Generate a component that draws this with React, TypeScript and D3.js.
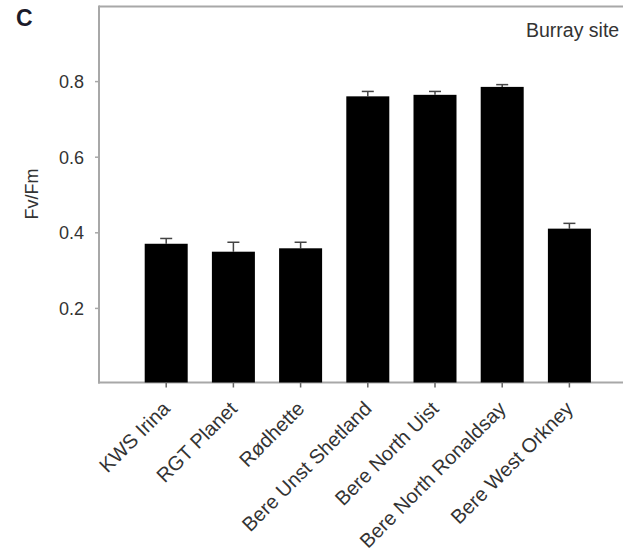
import React from "react";
import * as d3 from "d3";

const categories = [
  "KWS Irina",
  "RGT Planet",
  "Rødhette",
  "Bere Unst Shetland",
  "Bere North Uist",
  "Bere North Ronaldsay",
  "Bere West Orkney",
];
const means = [0.371, 0.35, 0.359, 0.761, 0.765, 0.786, 0.411];
const errors = [0.014, 0.025, 0.016, 0.013, 0.009, 0.006, 0.014];
const yTicks = [0.2, 0.4, 0.6, 0.8];

const W = 623;
const H = 553;
const left = 99;
const top = 6;
const bottom = 384;
const axisY = 382.5;

export default function App() {
  const x = d3
    .scalePoint<string>()
    .domain(categories)
    .range([left, left + 8 * 67.2])
    .padding(1);
  const y = d3.scaleLinear().domain([0, 1]).range([bottom, top]);
  const barW = 43;
  const frame = "#a8a8a8";
  const txt = "#333";
  const font = "'Liberation Sans', Arial, sans-serif";

  return (
    <svg
      width={W}
      height={H}
      style={{ position: "absolute", left: 0, top: 0, background: "#fff" }}
      fontFamily={font}
    >
      <text x={16} y={26} fontSize={23} fontWeight="bold" fill="#1b1b2a">
        C
      </text>
      {/* frame */}
      <line x1={left} x2={W + 5} y1={top + 0.5} y2={top + 0.5} stroke={frame} strokeWidth={2} />
      <line x1={left} x2={left} y1={top - 0.5} y2={axisY + 1} stroke={frame} strokeWidth={2} />
      <line x1={left - 1} x2={W + 5} y1={axisY} y2={axisY} stroke={frame} strokeWidth={2} />
      {/* y ticks */}
      {yTicks.map((t) => (
        <g key={t}>
          <line x1={left - 4} x2={left} y1={y(t)} y2={y(t)} stroke={frame} strokeWidth={1.5} />
          <text
            x={84}
            y={y(t)}
            dy="0.35em"
            textAnchor="end"
            fontSize={18}
            fill={txt}
          >
            {t.toFixed(1)}
          </text>
        </g>
      ))}
      <text
        transform={`translate(38,194) rotate(-90)`}
        textAnchor="middle"
        fontSize={18}
        fill={txt}
      >
        Fv/Fm
      </text>
      {/* bars */}
      {categories.map((c, i) => {
        const cx = x(c) as number;
        const v = means[i];
        const e = errors[i];
        return (
          <g key={c}>
            <line x1={cx} x2={cx} y1={y(v)} y2={y(v + e)} stroke="#444" strokeWidth={1.5} />
            <line x1={cx - 6} x2={cx + 6} y1={y(v + e)} y2={y(v + e)} stroke="#444" strokeWidth={1.5} />
            <rect x={cx - barW / 2} y={y(v)} width={barW} height={axisY - y(v)} fill="#000" />
            <line x1={cx} x2={cx} y1={axisY} y2={axisY + 5} stroke="#666" strokeWidth={1.5} />
            <text
              transform={`translate(${cx + 5},410) rotate(-45)`}
              textAnchor="end"
              fontSize={20}
              fill={txt}
            >
              {c}
            </text>
          </g>
        );
      })}
      <text x={526} y={37} fontSize={19.5} fill={txt}>
        Burray site
      </text>
    </svg>
  );
}
